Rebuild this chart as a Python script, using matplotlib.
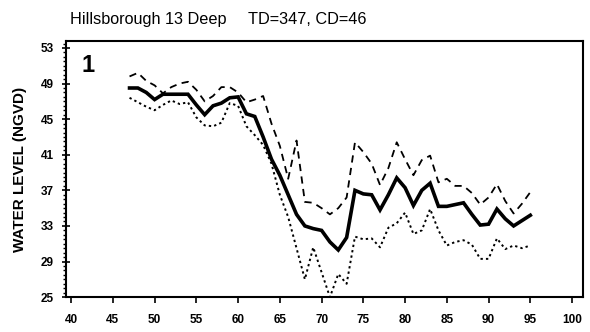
import numpy as np
import matplotlib.pyplot as plt
from matplotlib.ticker import MultipleLocator

# Years and water levels
years = list(range(47, 96))
mean_level = [48.5, 48.5, 48.0, 47.2, 47.8, 47.8, 47.8, 47.8, 46.6, 45.5,
              46.5, 46.8, 47.4, 47.5, 45.6, 45.3, 43.0, 40.5, 38.7, 36.5,
              34.3, 33.0, 32.7, 32.5, 31.2, 30.3, 31.7, 37.0, 36.6, 36.5,
              34.8, 36.5, 38.4, 37.3, 35.3, 37.0, 37.8, 35.2, 35.2, 35.4,
              35.6, 34.3, 33.1, 33.2, 34.9, 33.8, 33.0, 33.6, 34.2]
upper_level = [49.8, 50.2, 49.3, 48.8, 47.9, 48.6, 49.0, 49.2, 48.3, 47.0,
               47.6, 48.6, 48.6, 48.0, 46.9, 47.2, 47.6, 44.5, 42.0, 38.3,
               42.6, 35.7, 35.6, 35.0, 34.3, 35.0, 36.2, 42.4, 41.3, 40.0,
               37.6, 39.5, 42.4, 40.5, 38.7, 40.4, 40.9, 37.9, 38.3, 37.5,
               37.5, 36.7, 35.4, 36.2, 37.7, 35.8, 34.4, 35.5, 36.8]
lower_level = [47.4, 46.9, 46.4, 46.0, 46.6, 47.1, 46.7, 46.9, 45.2, 44.3,
               44.2, 44.6, 46.8, 46.5, 44.2, 43.2, 42.1, 40.0, 36.5, 34.0,
               30.5, 27.0, 30.6, 27.8, 25.0, 27.6, 26.5, 31.8, 31.5, 31.6,
               30.6, 32.8, 33.3, 34.5, 32.1, 32.5, 34.9, 32.5, 30.8, 31.2,
               31.4, 30.9, 29.3, 29.3, 31.6, 30.4, 30.8, 30.5, 30.8]
x_ticks = list(range(40, 101, 5))
y_ticks = list(range(25, 54, 4))

plt.rcParams['font.family'] = ['Liberation Sans', 'DejaVu Sans']

fig = plt.figure(figsize=(5.9, 3.32), dpi=100)
ax = fig.add_axes([0.112, 0.105, 0.876, 0.772])

ax.plot(years, upper_level, color='black', lw=1.3, linestyle=(0, (4, 3)))
ax.plot(years, lower_level, color='black', lw=1.4, linestyle=(0, (1.2, 1.6)))
ax.plot(years, mean_level, color='black', lw=2.6, solid_joinstyle='miter')

ax.set_xlim(39.4, 101.3)
ax.set_ylim(25, 53.8)
ax.set_xticks(x_ticks)
ax.set_yticks(y_ticks)
ax.yaxis.set_minor_locator(MultipleLocator(0.5))
ax.tick_params(axis='y', which='major', direction='inout', length=6, width=1.2, pad=6)
ax.tick_params(axis='y', which='minor', direction='out', length=2.5, width=1)
ax.tick_params(axis='x', which='major', direction='out', length=4, width=1.2, pad=8)
ax.tick_params(labelsize=8.5)
for lab in ax.get_xticklabels() + ax.get_yticklabels():
    lab.set_fontweight('bold')
for sp in ax.spines.values():
    sp.set_linewidth(1.5)

ax.set_ylabel('WATER LEVEL (NGVD)', fontsize=11, fontweight='bold', labelpad=10)
ax.text(0.03, 0.95, '1', transform=ax.transAxes, fontsize=17, fontweight='bold',
        va='top', ha='left')
fig.text(0.118, 0.94, 'Hillsborough 13 Deep', fontsize=11.7, va='center')
fig.text(0.42, 0.94, 'TD=347, CD=46', fontsize=11.7, va='center')

fig.savefig('out.png', dpi=100)
